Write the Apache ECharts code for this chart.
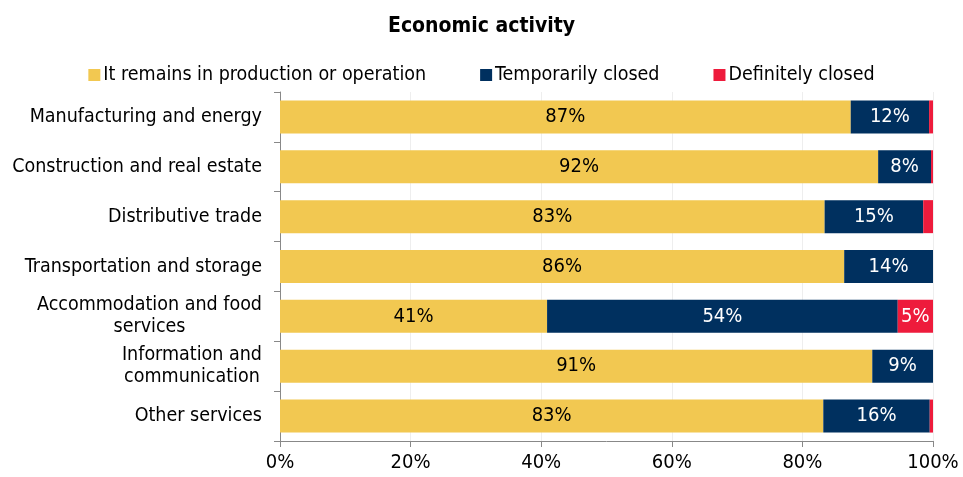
<!DOCTYPE html>
<html>
<head>
<meta charset="utf-8">
<script src="https://cdn.jsdelivr.net/npm/echarts@6/dist/echarts.min.js"></script>
<style>
  html, body { margin: 0; padding: 0; background: #fff; }
  #chart { width: 963px; height: 477px; }
</style>
</head>
<body>
<div id="chart"></div>
<script>
// categories, top to bottom as in the picture
var categories = [
  'Manufacturing and energy',
  'Construction and real estate',
  'Distributive trade',
  'Transportation and storage',
  'Accommodation and food\nservices',
  'Information and\ncommunication',
  'Other services'
];
var remains    = [87.4, 91.6, 83.4, 86.4, 40.9, 90.7, 83.2];
var tempClosed = [12.0, 8.1, 15.1, 13.6, 53.7, 9.3, 16.3];
var defClosed  = [0.6, 0.3, 1.5, 0.0, 5.4, 0.0, 0.5];

var seriesNames = ['It remains in production or operation', 'Temporarily closed', 'Definitely closed'];
var colors = ['#F2C851', '#00305F', '#EE1B3C'];

var font = '"DejaVu Sans Condensed", "DejaVu Sans", sans-serif';

var myChart = echarts.init(document.getElementById('chart'));

function makeSeries (name, data, color, labelColor) {
    return {
        name: name,
        type: 'bar',
        stack: 'total',
        barWidth: 33,
        itemStyle: { color: color },
        label: {
            show: true,
            color: labelColor,
            fontFamily: font,
            fontSize: 20,
            formatter: function (p) {
                return p.value >= 3 ? Math.round(p.value) + '%' : '';
            }
        },
        data: data.slice().reverse()
    };
}

var option = {
    animation: false,
    textStyle: { fontFamily: font },
    title: {
        text: 'Economic activity',
        left: 'center',
        top: 11,
        textStyle: { fontFamily: font, fontSize: 21, fontWeight: 'bold', color: '#000' }
    },
    legend: {
        top: 60,
        left: 'center',
        itemWidth: 12,
        itemHeight: 12,
        itemGap: 54,
        icon: 'rect',
        textStyle: { fontFamily: font, fontSize: 19.5, color: '#000', padding: [0, 0, 0, -2] },
        data: seriesNames
    },
    grid: { left: 280, right: 30, top: 92, bottom: 36, containLabel: false },
    xAxis: {
        type: 'value',
        min: 0,
        max: 100,
        interval: 20,
        axisLine: { show: true, lineStyle: { color: '#888' } },
        axisTick: { show: true, length: 6, lineStyle: { color: '#888' } },
        splitLine: { show: true, lineStyle: { color: '#eee' } },
        axisLabel: {
            color: '#000', fontSize: 20, fontFamily: font, margin: 12,
            formatter: '{value}%'
        }
    },
    yAxis: {
        type: 'category',
        data: categories.slice().reverse(),
        axisLine: { show: true, lineStyle: { color: '#888' } },
        axisTick: { show: true, length: 6, lineStyle: { color: '#888' } },
        axisLabel: {
            color: '#000', fontSize: 19.5, fontFamily: font, margin: 18,
            formatter: function (v) {
                return v.split('\n').map(function (s) { return '{c|' + s + '}'; }).join('\n');
            },
            rich: {
                c: { align: 'center', fontSize: 19.5, fontFamily: font, color: '#000', lineHeight: 22 }
            }
        }
    },
    series: [
        makeSeries(seriesNames[0], remains, colors[0], '#000'),
        makeSeries(seriesNames[1], tempClosed, colors[1], '#fff'),
        makeSeries(seriesNames[2], defClosed, colors[2], '#fff')
    ]
};

myChart.setOption(option);
window.addEventListener('resize', function () { myChart.resize(); });
</script>
</body>
</html>
